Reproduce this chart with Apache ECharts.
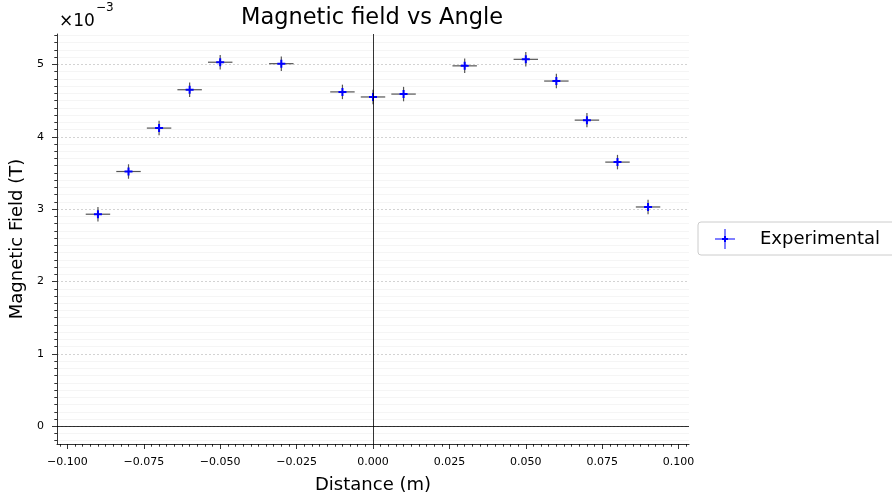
<!DOCTYPE html>
<html>
<head>
<meta charset="utf-8">
<script src="https://cdn.jsdelivr.net/npm/echarts@6/dist/echarts.min.js"></script>
<style>
  html, body { margin: 0; padding: 0; background: #fff; }
  #chart { width: 892px; height: 499px; }
</style>
</head>
<body>
<div id="chart"></div>
<script>
// measured points (distance in m, field in units of 1e-3 T)
var distance = [-0.09, -0.08, -0.07, -0.06, -0.05, -0.03, -0.01, 0.00, 0.01, 0.03, 0.05, 0.06, 0.07, 0.08, 0.09];
var field = [2.93, 3.52, 4.12, 4.65, 5.03, 5.01, 4.62, 4.55, 4.59, 4.98, 5.07, 4.77, 4.23, 3.65, 3.03];
var distanceErr = [0.004, 0.004, 0.004, 0.004, 0.004, 0.004, 0.004, 0.004, 0.004, 0.004, 0.004, 0.004, 0.004, 0.004, 0.004];
var fieldErr = [0.1, 0.1, 0.1, 0.1, 0.1, 0.1, 0.1, 0.1, 0.1, 0.1, 0.1, 0.1, 0.1, 0.1, 0.1];

// tick positions
var xMajor = [-0.1, -0.075, -0.05, -0.025, 0, 0.025, 0.05, 0.075, 0.1];
var yMajor = [0, 1, 2, 3, 4, 5];
var xMinor = [];
for (var i = -41; i <= 41; i++) {
  if (i % 10 !== 0) xMinor.push(+(i * 0.0025).toFixed(4));
}
var yMinor = [];
for (var k = -2; k <= 54; k++) {
  if (k % 10 !== 0) yMinor.push(+(k * 0.1).toFixed(1));
}

var plusIcon = 'path://M3,0h2v3h3v2h-3v3h-2v-3h-3v-2h3z';
var legendIcon = 'path://M9.5,0h1v7.5h-1zM9.5,12.5h1v7.5h-1zM0,9.5h7.5v1h-7.5zM12.5,9.5h7.5v1h-7.5zM9,7h2v2h2v2h-2v2h-2v-2h-2v-2h2z';

var chart = echarts.init(document.getElementById('chart'));

var rows = distance.map(function (d, i) {
  return [d, field[i], distanceErr[i], fieldErr[i]];
});

function minus(v) {
  return String(v).replace('-', '\u2212');
}

var tickStyle = { color: '#000', width: 0.8 };

var option = {
  animation: false,
  textStyle: { fontFamily: 'DejaVu Sans' },
  title: [
    {
      text: 'Magnetic field vs Angle',
      left: 241,
      top: 7,
      padding: 0,
      textStyle: { fontSize: 22.5, fontWeight: 'normal', color: '#000' }
    },
    // axis scale factor, like matplotlib's offset text
    {
      text: '\u00d710',
      left: 59,
      top: 13,
      padding: 0,
      textStyle: { fontSize: 17, fontWeight: 'normal', color: '#000' }
    },
    {
      text: '\u22123',
      left: 96,
      top: 2,
      padding: 0,
      textStyle: { fontSize: 12, fontWeight: 'normal', color: '#000' }
    }
  ],
  legend: {
    orient: 'vertical',
    left: 698,
    top: 222,
    padding: [7, 20, 6, 17],
    itemWidth: 20,
    itemHeight: 20,
    borderColor: '#cccccc',
    borderWidth: 1,
    borderRadius: 3,
    backgroundColor: '#fff',
    data: [{ name: 'Experimental', icon: legendIcon }],
    textStyle: { fontSize: 18, color: '#000', padding: [0, 0, 0, 20] }
  },
  grid: { left: 57, right: 203, top: 34, bottom: 55 },
  xAxis: [
    {
      type: 'value',
      min: -0.1034,
      max: 0.1034,
      position: 'bottom',
      name: 'Distance (m)',
      nameLocation: 'middle',
      nameGap: 32,
      nameTextStyle: { fontSize: 18, color: '#000' },
      axisLine: { show: true, onZero: false, lineStyle: tickStyle },
      axisTick: { show: true, customValues: xMajor, length: 5, lineStyle: tickStyle },
      axisLabel: {
        customValues: xMajor,
        fontSize: 11,
        color: '#000',
        margin: 13,
        formatter: function (v) { return minus(v.toFixed(3)); }
      },
      splitLine: { show: false }
    },
    {
      type: 'value',
      min: -0.1034,
      max: 0.1034,
      position: 'bottom',
      axisLine: { show: false, onZero: false },
      axisTick: { show: true, customValues: xMinor, length: 2.7, lineStyle: tickStyle },
      axisLabel: { show: false },
      splitLine: { show: false }
    }
  ],
  yAxis: [
    {
      type: 'value',
      min: -0.245,
      max: 5.42,
      position: 'left',
      name: 'Magnetic Field (T)',
      nameLocation: 'middle',
      nameGap: 22,
      nameTextStyle: { fontSize: 18, color: '#000' },
      axisLine: { show: true, onZero: false, lineStyle: tickStyle },
      axisTick: { show: true, customValues: yMajor, length: 5, lineStyle: tickStyle },
      axisLabel: { customValues: yMajor, fontSize: 11, color: '#000', margin: 13 },
      splitLine: { show: true, lineStyle: { color: '#c0c0c0', width: 0.7, type: [2, 2] } }
    },
    {
      type: 'value',
      min: -0.245,
      max: 5.42,
      position: 'left',
      axisLine: { show: false, onZero: false },
      axisTick: { show: true, customValues: yMinor, length: 2.7, lineStyle: tickStyle },
      axisLabel: { show: false },
      splitLine: { show: true, lineStyle: { color: '#f0f0f0', width: 0.7 } }
    }
  ],
  series: [
    {
      name: 'errors',
      type: 'custom',
      data: rows,
      encode: { x: 0, y: 1 },
      silent: true,
      z: 3,
      renderItem: function (params, api) {
        var x = api.value(0), y = api.value(1), xe = api.value(2), ye = api.value(3);
        var l = api.coord([x - xe, y]), r = api.coord([x + xe, y]);
        var t = api.coord([x, y + ye]), b = api.coord([x, y - ye]);
        var st = { stroke: '#555', lineWidth: 1.2 };
        return {
          type: 'group',
          children: [
            { type: 'line', shape: { x1: l[0], y1: l[1], x2: r[0], y2: r[1] }, style: st },
            { type: 'line', shape: { x1: t[0], y1: t[1], x2: b[0], y2: b[1] }, style: st }
          ]
        };
      }
    },
    {
      name: 'Experimental',
      type: 'scatter',
      data: rows.map(function (r) { return [r[0], r[1]]; }),
      symbol: plusIcon,
      symbolSize: 8,
      itemStyle: { color: '#0000ff', opacity: 1 },
      z: 4,
      markLine: {
        silent: true,
        symbol: ['none', 'none'],
        label: { show: false },
        lineStyle: { color: '#000', width: 0.8, type: 'solid' },
        data: [{ xAxis: 0 }, { yAxis: 0 }]
      }
    }
  ]
};

chart.setOption(option);
</script>
</body>
</html>
